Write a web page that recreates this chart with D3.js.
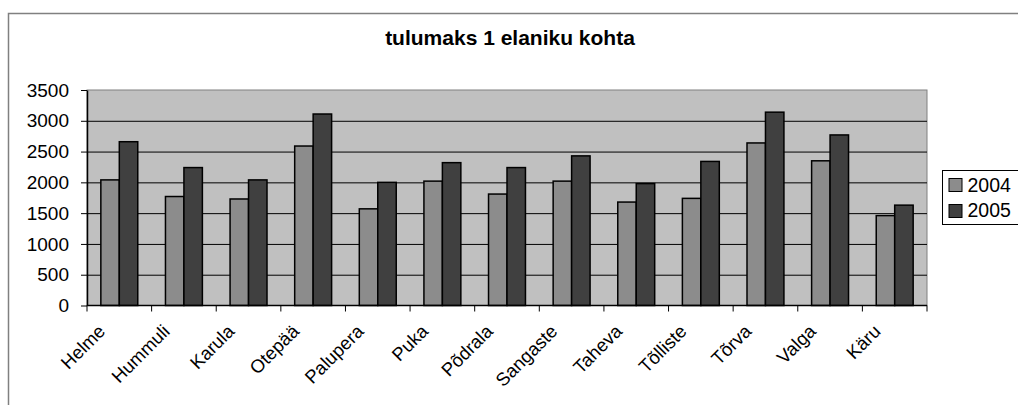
<!doctype html>
<html>
<head>
<meta charset="utf-8">
<script src="https://cdnjs.cloudflare.com/ajax/libs/d3/7.8.5/d3.min.js"></script>
<style>
  body { margin: 0; background: #fff; }
  svg { display: block; font-family: "Liberation Sans", Arial, sans-serif; }
  .grid line { stroke: #000; stroke-width: 1; }
  .grid path.domain { stroke: none; }
  .yaxis text { fill: #000; font-size: 19px; }
  .xaxis text { fill: #000; font-size: 18.5px; }
  .yaxis line, .xaxis line, .yaxis path, .xaxis path { stroke: #000; }
  rect.bar { stroke: #000; stroke-width: 1.5; }
</style>
</head>
<body>
<svg id="chart" width="1018" height="405"></svg>
<script>
var categories = ["Helme", "Hummuli", "Karula", "Otepää", "Palupera", "Puka", "Põdrala",
                  "Sangaste", "Taheva", "Tõlliste", "Tõrva", "Valga", "Käru"];
var years = ["2004", "2005"];
var values2004 = [2040, 1770, 1730, 2590, 1570, 2020, 1810, 2020, 1680, 1740, 2640, 2350, 1460];
var values2005 = [2660, 2240, 2040, 3110, 2000, 2320, 2240, 2430, 1980, 2340, 3140, 2770, 1630];
var yTicks = [0, 500, 1000, 1500, 2000, 2500, 3000, 3500];
var colors = ["#8c8c8c", "#404040"];
var title = "tulumaks 1 elaniku kohta";

var svg = d3.select("#chart");
var plotLeft = 87, plotRight = 927, plotTop = 90, plotBottom = 305.5;

// outer chart frame
svg.append("rect").attr("x", 8.5).attr("y", 13.5).attr("width", 1040).attr("height", 420)
  .attr("fill", "#fff").attr("stroke", "#808080").attr("stroke-width", 1.5);

svg.append("text").attr("x", 510).attr("y", 45).attr("text-anchor", "middle")
  .style("font-size", "21px").style("font-weight", "bold").text(title);

var x = d3.scaleBand().domain(categories).range([plotLeft, plotRight]);
var y = d3.scaleLinear().domain([0, 3500]).range([plotBottom, plotTop]);
var x1 = d3.scaleBand().domain(years).range([0, x.bandwidth()]).paddingInner(0).paddingOuter(0.75);

// plot area
svg.append("rect").attr("x", plotLeft).attr("y", plotTop)
  .attr("width", plotRight - plotLeft).attr("height", plotBottom - plotTop)
  .attr("fill", "#c0c0c0").attr("stroke", "#808080").attr("stroke-width", 1);

svg.append("g").attr("class", "grid")
  .attr("transform", "translate(" + plotLeft + ",0)")
  .call(d3.axisRight(y).tickValues(yTicks.slice(1, -1)).tickSize(plotRight - plotLeft).tickFormat(""));

var series = [values2004, values2005];
var groups = svg.append("g");
series.forEach(function (vals, si) {
  groups.selectAll("rect.s" + si).data(vals).enter().append("rect")
    .attr("class", "bar s" + si)
    .attr("x", function (d, i) { return x(categories[i]) + x1(years[si]); })
    .attr("y", function (d) { return y(d); })
    .attr("width", x1.bandwidth())
    .attr("height", function (d) { return plotBottom - y(d); })
    .attr("fill", colors[si]);
});

// y axis
var yAxis = svg.append("g").attr("class", "yaxis")
  .attr("transform", "translate(" + plotLeft + ",0)")
  .call(d3.axisLeft(y).tickValues(yTicks).tickFormat(d3.format("d"))
    .tickSize(6).tickPadding(12).tickSizeOuter(0));
yAxis.select("path.domain").attr("stroke-width", 1.5);

// x axis with ticks at category boundaries
var xAxis = svg.append("g").attr("class", "xaxis").attr("transform", "translate(0," + plotBottom + ")");
xAxis.append("line").attr("x1", plotLeft).attr("x2", plotRight).attr("stroke", "#000").attr("stroke-width", 1.5);
var bounds = categories.map(function (c) { return x(c); }).concat([plotRight]);
xAxis.selectAll("line.tk").data(bounds).enter().append("line").attr("class", "tk")
  .attr("x1", function (d) { return d; }).attr("x2", function (d) { return d; })
  .attr("y1", 0).attr("y2", 6).attr("stroke", "#000");
xAxis.selectAll("text").data(categories).enter().append("text")
  .attr("transform", function (d) {
    return "translate(" + (x(d) + x.bandwidth() / 2 - 13) + ",27) rotate(-45)";
  })
  .attr("text-anchor", "end")
  .text(function (d) { return d; });

// legend
var lg = svg.append("g").attr("transform", "translate(942.5,170.5)");
lg.append("rect").attr("width", 90).attr("height", 54).attr("fill", "#fff").attr("stroke", "#000");
years.forEach(function (yr, i) {
  lg.append("rect").attr("x", 6.5).attr("y", 8 + i * 26).attr("width", 13).attr("height", 13)
    .attr("fill", colors[i]).attr("stroke", "#000");
  lg.append("text").attr("x", 25).attr("y", 21.5 + i * 25).style("font-size", "19.5px").text(yr);
});
</script>
</body>
</html>
